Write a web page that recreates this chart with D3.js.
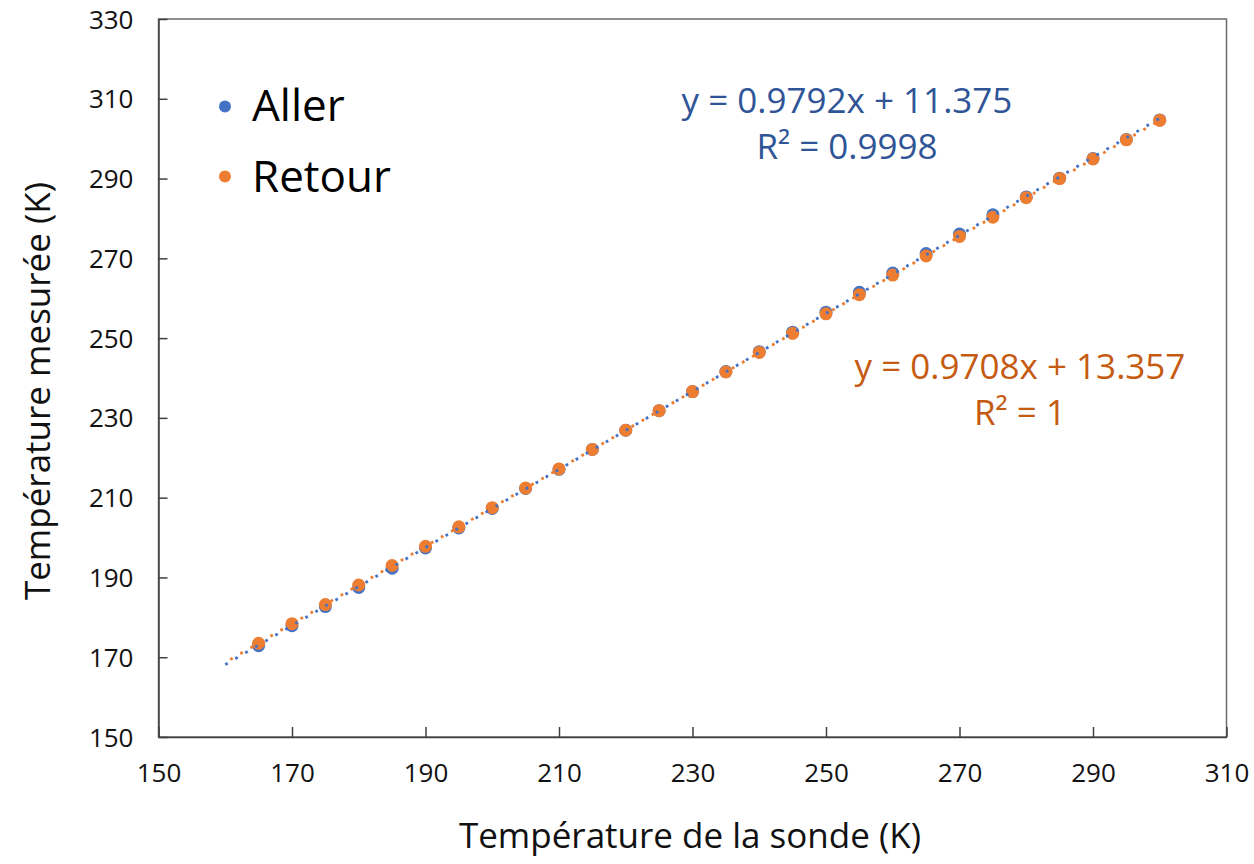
<!DOCTYPE html>
<html>
<head>
<meta charset="utf-8">
<script src="https://cdn.jsdelivr.net/npm/d3@7"></script>
<style>
  html, body { margin: 0; padding: 0; background: #fff; }
  svg { display: block; font-family: "Open Sans", "Noto Sans", sans-serif; }
</style>
</head>
<body>
<svg id="chart" width="1254" height="864"></svg>
<script>
// ---- data ----
const sondeTemps = [165,170,175,180,185,190,195,200,205,210,215,220,225,230,235,240,245,250,255,260,265,270,275,280,285,290,295,300];
const allerValues = [172.9,177.9,182.7,187.5,192.3,197.4,202.4,207.3,212.3,217.1,222.1,226.9,231.8,236.6,241.6,246.6,251.5,256.5,261.5,266.3,271.2,276.1,280.9,285.4,290.1,295.0,299.8,304.7];
const retourValues = [173.5,178.4,183.2,188.1,193.0,197.8,202.7,207.5,212.4,217.2,222.1,226.9,231.8,236.6,241.5,246.4,251.2,256.1,260.9,265.8,270.6,275.5,280.3,285.2,290.0,294.9,299.7,304.6];
const xTicks = [150,170,190,210,230,250,270,290,310];
const yTicks = [150,170,190,210,230,250,270,290,310,330];
const seriesNames = ["Aller", "Retour"];
const allerEquation = ["y = 0.9792x + 11.375", "R² = 0.9998"];
const retourEquation = ["y = 0.9708x + 13.357", "R² = 1"];
const trendStart = 160;
const xTitle = "Température de la sonde (K)";
const yTitle = "Température mesurée (K)";

const colors = { Aller: "#4472C4", Retour: "#ED7D31" };
const labelColors = { Aller: "#2F5597", Retour: "#C55A11" };

// ---- layout ----
const svg = d3.select("#chart");
const plot = { left: 158.5, right: 1226.5, top: 19, bottom: 737 };
const x = d3.scaleLinear().domain([150, 310]).range([plot.left, plot.right]);
const y = d3.scaleLinear().domain([150, 330]).range([plot.bottom, plot.top]);

// frame
svg.append("rect")
  .attr("x", plot.left).attr("y", plot.top)
  .attr("width", plot.right - plot.left).attr("height", plot.bottom - plot.top)
  .attr("fill", "none").attr("stroke", "#6b6b6b").attr("stroke-width", 1.5);

// axes
const xAxis = d3.axisBottom(x).tickValues(xTicks).tickSizeInner(-10).tickSizeOuter(0).tickPadding(27);
const gx = svg.append("g").attr("transform", `translate(0,${plot.bottom})`).call(xAxis);
const yAxis = d3.axisLeft(y).tickValues(yTicks).tickSizeInner(-9).tickSizeOuter(0).tickPadding(25);
const gy = svg.append("g").attr("transform", `translate(${plot.left},0)`).call(yAxis);
[gx, gy].forEach(g => {
  g.select(".domain").attr("stroke", "#404040").attr("stroke-width", 1.5);
  g.selectAll(".tick line").attr("stroke", "#404040").attr("stroke-width", 1.5);
  g.selectAll(".tick text").attr("fill", "#111").style("font-size", "26px")
   .style("font-family", "'Open Sans', sans-serif");
});
gy.selectAll(".tick text").attr("dy", "0.35em");

// axis titles
svg.append("text").attr("x", 690).attr("y", 848).attr("text-anchor", "middle")
  .style("font-size", "35px").attr("fill", "#111").text(xTitle);
svg.append("text").attr("transform", "translate(50,391) rotate(-90)").attr("text-anchor", "middle")
  .style("font-size", "35px").attr("fill", "#111").text(yTitle);

// regression (least squares from data)
function regress(xs, ys) {
  const mx = d3.mean(xs), my = d3.mean(ys);
  let sxy = 0, sxx = 0;
  xs.forEach((v, i) => { sxy += (v - mx) * (ys[i] - my); sxx += (v - mx) * (v - mx); });
  const b = sxy / sxx;
  return { slope: b, intercept: my - b * mx };
}
const series = [
  { name: "Aller", values: allerValues, eq: allerEquation, offset: 0 },
  { name: "Retour", values: retourValues, eq: retourEquation, offset: 5.8 }
];
const xEnd = d3.max(sondeTemps);
function trendPath(s) {
  const r = regress(sondeTemps, s.values);
  return d3.line()([trendStart, xEnd].map(v => [x(v), y(r.slope * v + r.intercept)]));
}

// points
series.forEach(s => {
  svg.append("g").selectAll("circle").data(sondeTemps).join("circle")
    .attr("cx", d => x(d)).attr("cy", (d, i) => y(s.values[i]))
    .attr("r", 6.5).attr("fill", colors[s.name]);
});

// trend lines (dotted, drawn over markers)
series.forEach(s => {
  svg.append("path").attr("d", trendPath(s))
    .attr("stroke", colors[s.name]).attr("stroke-width", 2.8).attr("fill", "none")
    .attr("stroke-dasharray", "2.8 8.8").attr("stroke-dashoffset", -s.offset);
});

// legend
const legend = svg.append("g");
seriesNames.forEach((n, i) => {
  legend.append("circle").attr("cx", 225).attr("cy", 106.5 + i * 70).attr("r", 6).attr("fill", colors[n]);
  legend.append("text").attr("x", 252).attr("y", 121 + i * 71).style("font-size", "44px")
    .attr("fill", "#000").text(n);
});

// equation labels
const eqPos = { Aller: [847, 113], Retour: [1020, 379] };
series.forEach(s => {
  const [cx, cy] = eqPos[s.name];
  s.eq.forEach((t, j) => {
    svg.append("text").attr("x", cx).attr("y", cy + j * 46).attr("text-anchor", "middle")
      .style("font-size", "35px").attr("fill", labelColors[s.name]).text(t);
  });
});
</script>
</body>
</html>
